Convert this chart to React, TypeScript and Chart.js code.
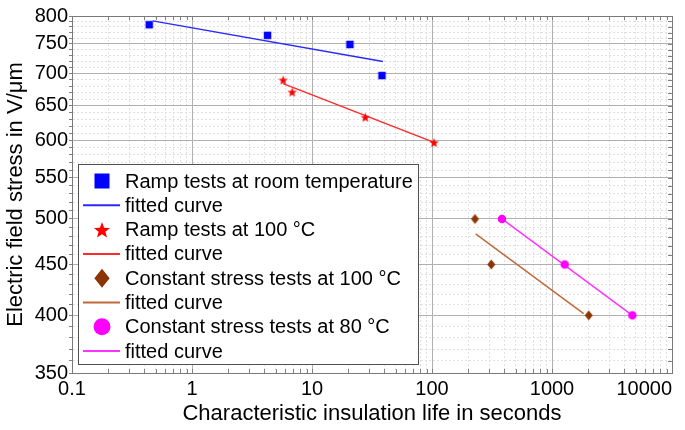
import React, { useEffect, useRef } from "react";
import { Chart, registerables } from "chart.js";

Chart.register(...registerables);

// ---------- data ----------
const rampRoomX = [0.44, 4.26, 20.7, 38.3];
const rampRoomY = [784, 765, 749, 697];
const rampRoomFitX = [0.47, 39];
const rampRoomFitY = [791, 720];

const ramp100X = [5.75, 6.83, 27.8, 104];
const ramp100Y = [690, 671, 633, 597];
const ramp100FitX = [5.75, 104];
const ramp100FitY = [684, 597];

const const100X = [228, 312, 2023];
const const100Y = [500, 450, 400];
const const100FitX = [231, 1837];
const const100FitY = [483, 401.5];

const const80X = [383, 1277, 4670];
const const80Y = [500, 450, 400];
const const80FitX = [383, 4670];
const const80FitY = [500, 400];

const seriesLabels = [
  "Ramp tests at room temperature",
  "fitted curve",
  "Ramp tests at 100 °C",
  "fitted curve",
  "Constant stress tests at 100 °C",
  "fitted curve",
  "Constant stress tests at 80 °C",
  "fitted curve",
];

const xDecades = [0.1, 1, 10, 100, 1000];
const xMultipliers = [1, 2, 3, 4, 5, 6, 7, 8, 9];
const xLast = 10000;
const xTickLabels = ["0.1", "1", "10", "100", "1000", "10000"];

const yTickLabels = [350, 400, 450, 500, 550, 600, 650, 700, 750, 800];
const yMinorStep = 10;

const FONT = "'Liberation Sans', Arial, Helvetica, sans-serif";

const BLUE = "#0000ff";
const BLUE_LINE = "#2a2aff";
const RED = "#ff0000";
const RED_LINE = "#ff2a2a";
const BROWN = "#8b3505";
const BROWN_LINE = "#c06a38";
const MAGENTA = "#ff00ff";
const MAGENTA_LINE = "#ff33ff";

// ---------- marker drawing helpers ----------
function starPath(ctx: CanvasRenderingContext2D, cx: number, cy: number, R: number, r: number) {
  ctx.beginPath();
  for (let i = 0; i < 10; i++) {
    const ang = -Math.PI / 2 + (i * Math.PI) / 5;
    const rad = i % 2 === 0 ? R : r;
    const x = cx + rad * Math.cos(ang);
    const y = cy + rad * Math.sin(ang);
    if (i === 0) ctx.moveTo(x, y);
    else ctx.lineTo(x, y);
  }
  ctx.closePath();
}

function diamondPath(ctx: CanvasRenderingContext2D, cx: number, cy: number, w: number, h: number) {
  ctx.beginPath();
  ctx.moveTo(cx, cy - h / 2);
  ctx.lineTo(cx + w / 2, cy);
  ctx.lineTo(cx, cy + h / 2);
  ctx.lineTo(cx - w / 2, cy);
  ctx.closePath();
}

function drawMarker(ctx: CanvasRenderingContext2D, kind: string, cx: number, cy: number, s: number, color: string) {
  ctx.save();
  ctx.fillStyle = color;
  if (kind === "square") {
    ctx.fillRect(cx - s / 2, cy - s / 2, s, s);
  } else if (kind === "star") {
    starPath(ctx, cx, cy + s * 0.06, s / 2, (s / 2) * 0.42);
    ctx.fill();
  } else if (kind === "diamond") {
    diamondPath(ctx, cx, cy, s * 0.85, s * 1.05);
    ctx.fill();
  } else if (kind === "circle") {
    ctx.beginPath();
    ctx.arc(cx, cy, s / 2, 0, Math.PI * 2);
    ctx.fill();
  }
  ctx.restore();
}

function makeImage(kind: string, s: number, color: string): HTMLCanvasElement {
  const c = document.createElement("canvas");
  const w = Math.ceil(s * 1.1) + 2;
  c.width = w;
  c.height = w;
  const ctx = c.getContext("2d")!;
  drawMarker(ctx, kind, w / 2, w / 2, s, color);
  return c;
}

const isDecade = (v: number) => {
  const l = Math.log10(v);
  return Math.abs(l - Math.round(l)) < 1e-9;
};
const isYMajor = (v: number) => yTickLabels.some((t) => Math.abs(t - v) < 1e-6);

const legendPlugin = {
  id: "boxLegend",
  afterDatasetsDraw(chart: any) {
    const { ctx, chartArea } = chart;
    const left = chartArea.left + 6;
    const top = chartArea.top + 148;
    const width = 340;
    const height = 200;
    ctx.save();
    ctx.fillStyle = "#ffffff";
    ctx.fillRect(left, top, width, height);
    ctx.strokeStyle = "#505050";
    ctx.lineWidth = 1;
    ctx.strokeRect(left + 0.5, top + 0.5, width, height);
    const rowH = 24.3;
    ctx.font = `20px ${FONT}`;
    ctx.textBaseline = "middle";
    ctx.textAlign = "left";
    chart.data.datasets.forEach((ds: any, i: number) => {
      const cy = top + 17 + i * rowH;
      if (ds.legendKind === "line") {
        ctx.strokeStyle = ds.borderColor;
        ctx.lineWidth = 2;
        ctx.beginPath();
        ctx.moveTo(left + 5, cy);
        ctx.lineTo(left + 42, cy);
        ctx.stroke();
      } else {
        drawMarker(ctx, ds.legendKind, left + 24, cy, ds.legendSize, ds.pointBackgroundColor);
      }
      ctx.fillStyle = "#000";
      ctx.fillText(ds.label, left + 47, cy + 1);
    });
    ctx.restore();
  },
  afterDraw(chart: any) {
    const { ctx, chartArea, scales } = chart;
    ctx.save();
    ctx.strokeStyle = "#808080";
    ctx.lineWidth = 1;
    // inward minor ticks on top, bottom and right
    ctx.beginPath();
    scales.x.ticks.forEach((t: any) => {
      const px = Math.round(scales.x.getPixelForValue(t.value)) + 0.5;
      ctx.moveTo(px, chartArea.bottom);
      ctx.lineTo(px, chartArea.bottom - 4);
      ctx.moveTo(px, chartArea.top);
      ctx.lineTo(px, chartArea.top + 4);
    });
    scales.y.ticks.forEach((t: any) => {
      const py = Math.round(scales.y.getPixelForValue(t.value)) + 0.5;
      ctx.moveTo(chartArea.right, py);
      ctx.lineTo(chartArea.right - 4, py);
    });
    ctx.stroke();
    ctx.strokeStyle = "#7a7a7a";
    ctx.strokeRect(
      Math.round(chartArea.left) + 0.5,
      Math.round(chartArea.top) + 0.5,
      Math.round(chartArea.right - chartArea.left),
      Math.round(chartArea.bottom - chartArea.top)
    );
    ctx.restore();
  },
};

const pts = (xs: number[], ys: number[]) => xs.map((x, i) => ({ x, y: ys[i] }));

export default function App() {
  const ref = useRef<HTMLCanvasElement | null>(null);

  useEffect(() => {
    if (!ref.current) return;
    const scatter = (label: string, xs: number[], ys: number[], kind: string, size: number, lsize: number, color: string) => ({
      label,
      data: pts(xs, ys),
      showLine: false,
      pointStyle: makeImage(kind, size, color),
      pointBackgroundColor: color,
      borderColor: color,
      legendKind: kind,
      legendSize: lsize,
      order: 1,
    });
    const line = (label: string, xs: number[], ys: number[], color: string) => ({
      label,
      data: pts(xs, ys),
      showLine: true,
      borderColor: color,
      backgroundColor: color,
      borderWidth: 1.5,
      pointRadius: 0,
      legendKind: "line",
      order: 2,
    });

    const datasets: any[] = [
      scatter(seriesLabels[0], rampRoomX, rampRoomY, "square", 7.5, 15, BLUE),
      line(seriesLabels[1], rampRoomFitX, rampRoomFitY, BLUE_LINE),
      scatter(seriesLabels[2], ramp100X, ramp100Y, "star", 10, 17, RED),
      line(seriesLabels[3], ramp100FitX, ramp100FitY, RED_LINE),
      scatter(seriesLabels[4], const100X, const100Y, "diamond", 9.5, 18, BROWN),
      line(seriesLabels[5], const100FitX, const100FitY, BROWN_LINE),
      scatter(seriesLabels[6], const80X, const80Y, "circle", 8.5, 17, MAGENTA),
      line(seriesLabels[7], const80FitX, const80FitY, MAGENTA_LINE),
    ];

    const xTickValues: number[] = [];
    xDecades.forEach((d) => xMultipliers.forEach((m) => xTickValues.push(parseFloat((d * m).toPrecision(6)))));
    xTickValues.push(xLast);
    const yTickValues: number[] = [];
    for (let v = yTickLabels[0]; v <= yTickLabels[yTickLabels.length - 1] + 1e-6; v += yMinorStep) yTickValues.push(v);

    const chart = new Chart(ref.current, {
      type: "scatter",
      data: { datasets },
      plugins: [legendPlugin],
      options: {
        animation: false,
        responsive: false,
        events: [],
        layout: { padding: { left: 0, top: 16, right: 13, bottom: 0 } },
        plugins: { legend: { display: false }, tooltip: { enabled: false } },
        scales: {
          x: {
            type: "logarithmic",
            min: 0.1,
            max: 10000,
            afterBuildTicks: (scale: any) => {
              scale.ticks = xTickValues.map((v) => ({ value: v }));
            },
            afterFit: (scale: any) => {
              scale.height = 57;
              scale.paddingLeft = 0;
              scale.paddingRight = 0;
            },
            ticks: {
              autoSkip: false,
              maxRotation: 0,
              padding: 4,
              color: "#000",
              font: { family: FONT, size: 20 },
              callback: (value: any) => {
                const v = Number(value);
                if (!isDecade(v)) return "";
                const idx = Math.round(Math.log10(v)) + 1;
                const lab = xTickLabels[idx];
                // last label sits left of its grid line, inside the canvas
                return idx === xTickLabels.length - 1 ? lab + "\u2007".repeat(lab.length) : lab;
              },
            },
            grid: {
              drawTicks: false,
              color: (c: any) => (c.tick && isDecade(c.tick.value) ? "#b0b0b0" : "#e0e0e0"),
            },
            border: {
              color: "#7a7a7a",
              dash: (c: any) => (c.tick && !isDecade(c.tick.value) ? [2, 2] : []),
            },
            title: {
              display: true,
              text: "Characteristic insulation life in seconds",
              color: "#000",
              font: { family: FONT, size: 22 },
              padding: { top: 0, bottom: 3 },
            },
          },
          y: {
            type: "logarithmic",
            min: 350,
            max: 800,
            afterBuildTicks: (scale: any) => {
              scale.ticks = yTickValues.map((v) => ({ value: v }));
            },
            afterFit: (scale: any) => {
              scale.width = 72;
            },
            ticks: {
              autoSkip: false,
              padding: 1,
              color: "#000",
              font: { family: FONT, size: 20 },
              callback: (value: any) => {
                const v = Number(value);
                return isYMajor(v) ? String(Math.round(v)) : "";
              },
            },
            grid: {
              drawTicks: true,
              tickLength: 3,
              tickColor: "#808080",
              color: (c: any) => (c.tick && isYMajor(c.tick.value) ? "#b0b0b0" : "#e0e0e0"),
            },
            border: {
              color: "#7a7a7a",
              dash: (c: any) => (c.tick && !isYMajor(c.tick.value) ? [2, 2] : []),
            },
            title: {
              display: true,
              text: "Electric field stress in V/μm",
              color: "#000",
              font: { family: FONT, size: 22 },
              padding: { top: 3, bottom: 0 },
            },
          },
        },
      } as any,
    });
    return () => chart.destroy();
  }, []);

  return (
    <div style={{ position: "fixed", left: 0, top: 0, width: 685, height: 430, background: "#fff" }}>
      <canvas ref={ref} width={685} height={430} style={{ width: 685, height: 430, display: "block" }} />
    </div>
  );
}
